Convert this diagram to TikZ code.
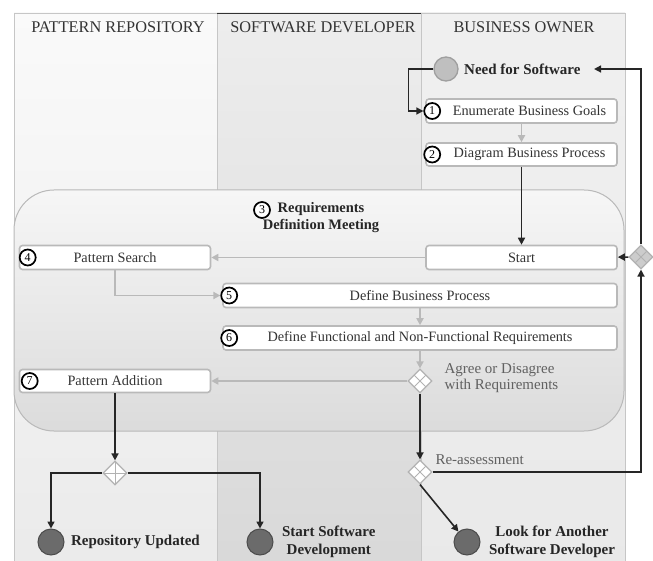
\documentclass[tikz,border=0pt]{standalone}
\usepackage{fontspec}
\setmainfont{Liberation Serif}
\usepackage{tikz}
\usetikzlibrary{arrows.meta,shapes.geometric,calc,positioning}

\begin{document}
\begin{tikzpicture}[x=1pt,y=-1pt,
  lane/.style={draw=gray!45,line width=.8pt},
  head/.style={text=black!80,font=\fontsize{16.3}{18}\selectfont},
  task/.style={draw=gray!55,line width=1.6pt,fill=white,rounded corners=3pt,inner sep=0pt,minimum height=24pt,text=black!80,font=\fontsize{14.3}{16}\selectfont},
  badge/.style={circle,draw=black,line width=1.7pt,fill=white,inner sep=0pt,minimum size=16pt,font=\fontsize{12}{12}\selectfont},
  gw/.style={diamond,draw=gray!60,fill=white,line width=1.2pt,inner sep=0pt,minimum size=24pt},
  quadgw/.style={gw,path picture={
    \draw[gray!60,line width=1pt]
      ($(path picture bounding box.north)!.5!(path picture bounding box.west)$) -- ($(path picture bounding box.south)!.5!(path picture bounding box.east)$)
      ($(path picture bounding box.north)!.5!(path picture bounding box.east)$) -- ($(path picture bounding box.south)!.5!(path picture bounding box.west)$);}},
  plusgw/.style={gw,path picture={
    \draw[gray!60,line width=1pt]
      (path picture bounding box.north) -- (path picture bounding box.south)
      (path picture bounding box.west) -- (path picture bounding box.east);}},
  startev/.style={circle,draw=gray!75,line width=1.3pt,fill=gray!50,minimum size=24pt,inner sep=0pt},
  endev/.style={circle,draw=black!70,line width=1pt,fill=black!58,minimum size=26pt,inner sep=0pt},
  evtext/.style={text=black!85,align=center,font=\fontsize{15}{18}\selectfont\bfseries},
  gwtext/.style={text=black!62,align=left,font=\fontsize{15}{16}\selectfont},
  flow/.style={draw=black!85,line width=1.6pt,-{Triangle[length=7pt,width=7pt]}},
  grayflow/.style={flow,draw=gray!55,line width=1.8pt},
]
\useasboundingbox (0,0) rectangle (653,561);

% lanes
\shade[top color=gray!4,bottom color=gray!16] (14,13) rectangle (217,561);
\shade[top color=gray!14,bottom color=gray!30] (217,13) rectangle (421,561);
\shade[top color=gray!12,bottom color=gray!17] (421,13) rectangle (625,561);
\draw[lane] (14,561) -- (14,13) -- (625,13) -- (625,561)
  (217,13) -- (217,561) (421,13) -- (421,561);
\draw[black!80,line width=.8pt] (217,13) -- (421,13);
\node[head] (hrepo) at (118,27) {PATTERN REPOSITORY};
\node[head] (hdev) at (323,27) {SOFTWARE DEVELOPER};
\node[head] (howner) at (524,27) {BUSINESS OWNER};

% meeting
\shade[draw=gray!55,line width=1pt,rounded corners=40pt,top color=gray!7,bottom color=gray!28]
  (14,190) rectangle (624,431);
\node[badge] (n3) at (262,210) {3};
\node[evtext,font=\fontsize{14.5}{17}\selectfont\bfseries] (meet) at (321,218) {Requirements\\Definition Meeting};

% tasks
\node[task,minimum width=191pt] (goals) at (521.5,111) {\hspace*{16pt}Enumerate Business Goals};
\node[task,minimum width=191pt,minimum height=23pt] (diagram) at (521.5,154.5) {\hspace*{16pt}Diagram Business Process};
\node[task,minimum width=191pt] (start) at (521.5,257.5) {Start};
\node[task,minimum width=191pt] (search) at (115,257.5) {Pattern Search};
\node[task,minimum width=394pt] (define) at (420,295.5) {Define Business Process};
\node[task,minimum width=394pt] (reqs) at (420,338) {Define Functional and Non-Functional Requirements};
\node[task,minimum width=191pt,minimum height=23pt] (addition) at (115,381) {Pattern Addition};
\node[badge] (n1) at ([xshift=7pt]goals.west) {1};
\node[badge] (n2) at ([xshift=7pt]diagram.west) {2};
\node[badge] (n4) at ([xshift=9pt]search.west) {4};
\node[badge] (n5) at ([xshift=7pt]define.west) {5};
\node[badge] (n6) at ([xshift=7pt]reqs.west) {6};
\node[badge] (n7) at ([xshift=11pt]addition.west) {7};

% gateways
\node[quadgw] (agree) at (420,381) {};
\node[quadgw] (reassess) at (420,472) {};
\node[plusgw] (join) at (115,473) {};
\node[quadgw,fill=gray!40] (loop) at (641,257) {};
\node[gwtext,anchor=west] (agreetxt) at (441,378) {Agree or Disagree\\with Requirements};
\node[gwtext,anchor=west] (reasstxt) at (432,460) {Re-assessment};

% events
\node[startev] (need) at (446,69) {};
\node[evtext,right=2pt of need] (needtxt) {Need for Software};
\node[endev] (repo) at (51,542) {};
\node[evtext,right=3pt of repo] (repotxt) {Repository Updated};
\node[endev] (devstart) at (260,542) {};
\node[evtext,right=5pt of devstart] (devtxt) {Start Software\\Development};
\node[endev] (another) at (467,542) {};
\node[evtext,right=5pt of another] (anothertxt) {Look for Another\\Software Developer};

% flows
\draw[flow] (need.west) -- ++(-25,0) |- (n1.west);
\draw[grayflow] (goals) -- (diagram);
\draw[flow] (diagram) -- (start);
\draw[grayflow] (start) -- (search);
\draw[grayflow] (search.south) |- (n5.west);
\draw[grayflow] (define) -- (reqs);
\draw[grayflow] (reqs) -- (agree);
\draw[grayflow] (agree) -- (addition);
\draw[flow] (agree) -- (reassess);
\draw[flow] (addition) -- (join);
\draw[flow] (join) -| (repo);
\draw[flow] (join) -| (devstart);
\draw[flow] (reassess.south) -- (another);
\draw[flow] (reassess) -| (loop);
\draw[flow] (loop) -- (start);
\draw[flow,shorten >=10pt] (loop) |- (needtxt);
\end{tikzpicture}
\end{document}
